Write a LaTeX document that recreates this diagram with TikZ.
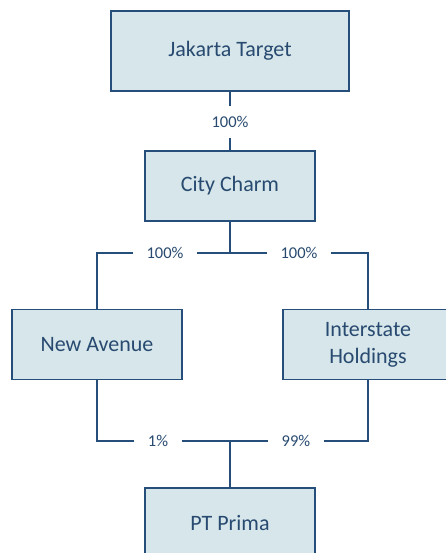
\documentclass[tikz,border=0pt]{standalone}
\usepackage{fontspec}
\setmainfont{Carlito}
\usepackage{tikz}
\usetikzlibrary{calc,positioning}

\definecolor{boxline}{RGB}{38,78,122}
\definecolor{boxfill}{RGB}{214,230,234}
\definecolor{boxtext}{RGB}{40,74,112}

\begin{document}
\begin{tikzpicture}[x=1pt, y=-1pt, line width=1.6pt]
\tikzstyle{ent}=[rectangle, draw=boxline, fill=boxfill, text=boxtext, align=center,
                 minimum width=170pt, minimum height=70pt, inner sep=2pt,
                 font=\fontsize{22}{27}\selectfont]
\tikzstyle{pct}=[inner xsep=13pt, inner ysep=10pt, text=boxtext,
                 font=\fontsize{16.5}{19}\selectfont]
\useasboundingbox (0,0) rectangle (445,553);
\node[ent, minimum width=238pt, minimum height=80pt] (JT) at (230,51) {Jakarta Target};
\node[ent] (CC) at (230,186) {City Charm};
\node[ent] (NA) at (97,344.5) {New Avenue};
\node[ent] (IH) at (368,344.5) {Interstate\\Holdings};
\node[ent] (PT) at (230,523) {PT Prima};
%\node (X) at (230,600) {};
\node[pct] (a) at (230,122) {100\%};
\node[pct] (b) at (165,253) {100\%};
\node[pct] (c) at (299,253) {100\%};
\node[pct] (d) at (158,441) {1\%};
\node[pct] (e) at (296,441) {99\%};
\begin{scope}[draw=boxline]
\foreach \i/\j in {JT/a, a/CC, b/c, d/e}{\draw (\i) -- (\j);}
\draw (NA.north) |- (b);
\draw (c) -| (IH.north);
\draw (NA.south) |- (d);
\draw (e) -| (IH.south);
\draw (CC.south) -- (CC.south |- b);
\draw (PT.north) -- (PT.north |- d);
\end{scope}
\end{tikzpicture}
\end{document}
